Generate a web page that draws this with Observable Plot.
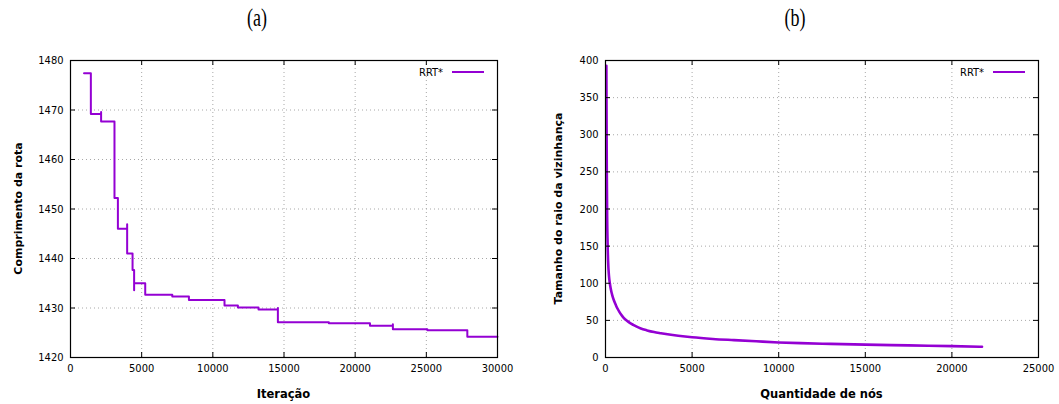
<!DOCTYPE html>
<html>
<head>
<meta charset="utf-8">
<script src="https://cdn.jsdelivr.net/npm/d3@7"></script>
<script src="https://cdn.jsdelivr.net/npm/@observablehq/plot@0.6"></script>
<style>
  html, body { margin: 0; padding: 0; background: #fff; }
  #wrap { position: relative; width: 1059px; height: 404px; overflow: hidden; }
  .panel { position: absolute; top: 0; }
  .title { position: absolute; top: 4px; font-family: "Liberation Serif", "DejaVu Serif", serif; font-size: 25px; transform: scaleX(0.72); transform-origin: center; width: 60px; text-align: center; color: #000; }
</style>
</head>
<body>
<div id="wrap">
  <div class="title" style="left:227px">(a)</div>
  <div class="title" style="left:765px">(b)</div>
  <div class="panel" id="left" style="left:0px"></div>
  <div class="panel" id="right" style="left:530px"></div>
</div>
<script>
// ---- Data: (a) route length vs iteration (step line, includes small spikes)
const iterations = [950, 1430, 2150, 2150, 3090, 3330, 3980, 3980, 4360, 4470, 4470, 5250, 7150, 8320, 10820, 11760, 13210, 14570, 14570, 18150, 21040, 22650, 22650, 25070, 27880, 30000];
const routeLengths = [1477.4, 1469.2, 1469.6, 1467.7, 1452.2, 1446.0, 1446.9, 1441.0, 1437.7, 1433.6, 1435.0, 1432.7, 1432.3, 1431.6, 1430.5, 1430.1, 1429.7, 1430.0, 1427.1, 1426.9, 1426.4, 1426.7, 1425.7, 1425.5, 1424.2, 1424.2];

// ---- Data: (b) neighbourhood radius vs node count
const nodeCounts = [50, 60, 75, 95, 120, 150, 200, 250, 300, 400, 500, 600, 690, 800, 900, 1050, 1270, 1450, 1600, 1800, 2040, 2400, 2800, 3200, 3580, 4200, 5000, 6200, 7420, 8700, 10000, 11260, 13000, 15010, 17500, 20010, 21740];
const radii = [393, 330, 250, 190, 155, 130, 110, 100, 93, 83, 76, 70.5, 66, 61.5, 58, 53.5, 49, 46, 44, 41.5, 39, 36.5, 34.3, 32.7, 31.3, 29.3, 27.2, 25, 23.4, 21.8, 20.3, 19.3, 18.3, 17.4, 16.3, 15.3, 14.5];

// ---- Tick values
const aXTicks = [0, 5000, 10000, 15000, 20000, 25000, 30000];
const aYTicks = [1420, 1430, 1440, 1450, 1460, 1470, 1480];
const bXTicks = [0, 5000, 10000, 15000, 20000, 25000];
const bYTicks = [0, 50, 100, 150, 200, 250, 300, 350, 400];

const seriesName = "RRT*";
const labelsA = { x: "Iteração", y: "Comprimento da rota" };
const labelsB = { x: "Quantidade de nós", y: "Tamanho do raio da vizinhança" };

const dataA = iterations.map((x, i) => ({ x, y: routeLengths[i] }));
const dataB = nodeCounts.map((x, i) => ({ x, y: radii[i] }));

const COLOR = "#9400d3";
const W = 529, H = 404, MT = 60, MB = 47;
const tickFont = "'DejaVu Sans Condensed', 'DejaVu Sans', sans-serif";

function panel({ data, xDomain, yDomain, xTicks, yTicks, ml, mr, curve, sw, labels, yLabelX }) {
  const fw = W - ml - mr, fh = H - MT - MB;
  const grid = { stroke: "#a8a8a8", strokeOpacity: 1, strokeDasharray: "1,3", strokeWidth: 1 };
  const plot = Plot.plot({
    width: W, height: H,
    marginTop: MT, marginBottom: MB, marginLeft: ml, marginRight: mr,
    x: { domain: xDomain },
    y: { domain: yDomain },
    style: { fontFamily: tickFont, fontSize: "11px", color: "#000", background: "transparent", overflow: "visible" },
    marks: [
      Plot.gridX(xTicks, grid),
      Plot.gridY(yTicks, grid),
      Plot.line(data, { x: "x", y: "y", curve, stroke: COLOR, strokeWidth: sw }),
      Plot.tickX(xTicks, { x: d => d, insetTop: fh - 5, stroke: "#000" }),
      Plot.tickX(xTicks, { x: d => d, insetBottom: fh - 5, stroke: "#000" }),
      Plot.tickY(yTicks, { y: d => d, insetRight: fw - 5, stroke: "#000" }),
      Plot.tickY(yTicks, { y: d => d, insetLeft: fw - 5, stroke: "#000" }),
      Plot.axisX({ ticks: xTicks, tickSize: 0, tickPadding: 7, label: null, tickFormat: d => String(d) }),
      Plot.axisY({ ticks: yTicks, tickSize: 0, tickPadding: 7, label: null, tickFormat: d => String(d) }),
      Plot.frame({ stroke: "#000", strokeWidth: 1.2 })
    ]
  });
  const svg = d3.select(plot);
  const bold = "'DejaVu Sans', sans-serif";
  // axis titles
  svg.append("text")
    .attr("x", ml + fw / 2).attr("y", 398)
    .attr("text-anchor", "middle")
    .attr("font-family", bold).attr("font-weight", "bold").attr("font-size", "11.5px")
    .attr("fill", "#000")
    .text(labels.x);
  svg.append("text")
    .attr("transform", `translate(${yLabelX},${MT + fh / 2}) rotate(-90)`)
    .attr("text-anchor", "middle").attr("dominant-baseline", "central")
    .attr("font-family", bold).attr("font-weight", "bold").attr("font-size", "11px")
    .attr("fill", "#000")
    .text(labels.y);
  // legend
  const lx = ml + fw, ly = MT + 12;
  svg.append("text")
    .attr("x", lx - 54).attr("y", ly)
    .attr("text-anchor", "end").attr("dominant-baseline", "central")
    .attr("font-family", tickFont).attr("font-size", "11px").attr("fill", "#000")
    .text(seriesName);
  svg.append("line")
    .attr("x1", lx - 45).attr("x2", lx - 13).attr("y1", ly).attr("y2", ly)
    .attr("stroke", COLOR).attr("stroke-width", 2);
  return plot;
}

document.getElementById("left").append(panel({
  data: dataA, xDomain: [0, 30000], yDomain: [1420, 1480],
  xTicks: aXTicks, yTicks: aYTicks, ml: 70, mr: 32, curve: "step-after", sw: 2,
  labels: labelsA, yLabelX: 18
}));
document.getElementById("right").append(panel({
  data: dataB, xDomain: [0, 25000], yDomain: [0, 400],
  xTicks: bXTicks, yTicks: bYTicks, ml: 75, mr: 21, curve: "monotone-x", sw: 2.6,
  labels: labelsB, yLabelX: 28
}));
</script>
</body>
</html>
